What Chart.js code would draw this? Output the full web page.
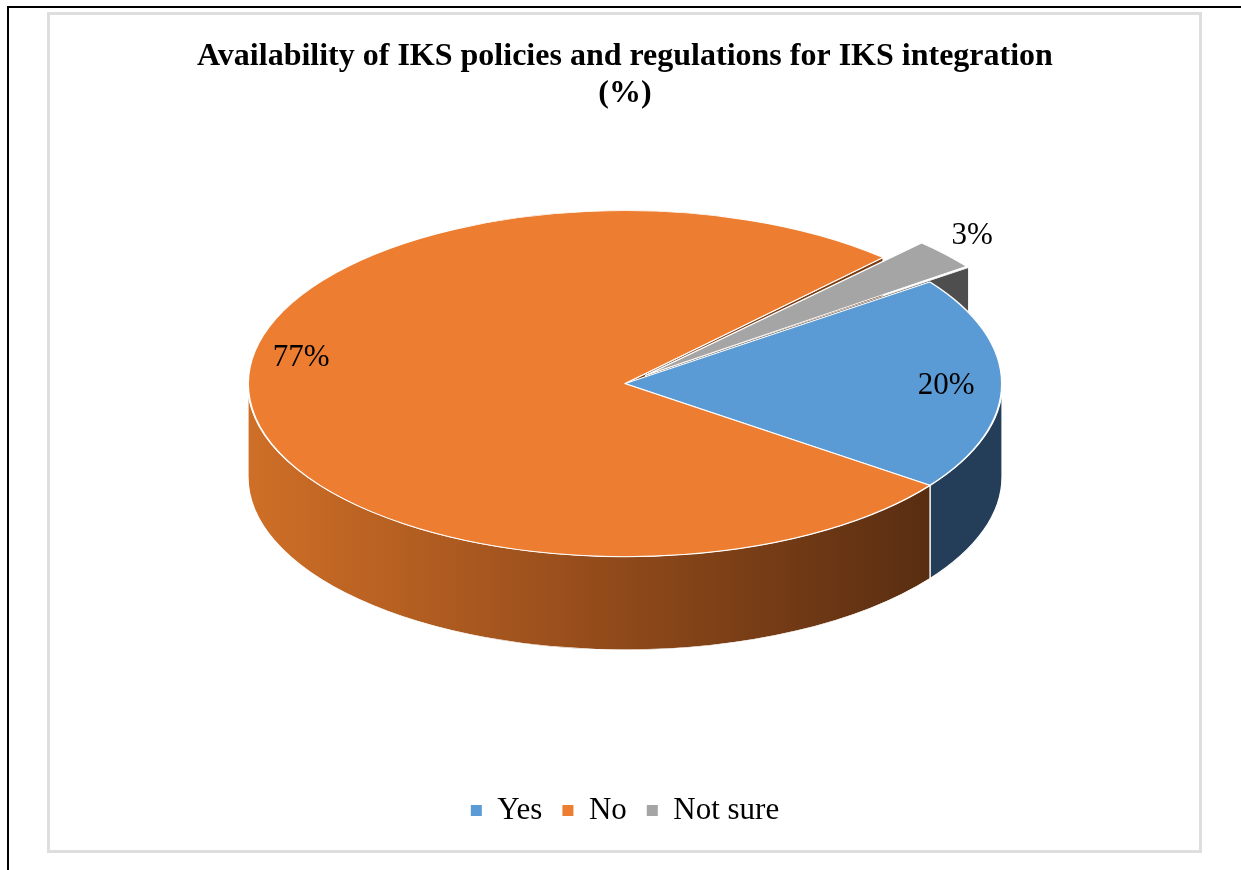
<!DOCTYPE html>
<html>
<head>
<meta charset="utf-8">
<script src="https://cdn.jsdelivr.net/npm/chart.js@4.4.1/dist/chart.umd.min.js"></script>
<style>
  html, body { margin: 0; padding: 0; background: #fff; }
  body { width: 1241px; height: 870px; position: relative; overflow: hidden; }
  #frame { position: absolute; left: 7px; top: 6px; right: 0; bottom: 0; border-left: 2px solid #000; border-top: 2px solid #000; }
  #box { position: absolute; left: 47px; top: 12px; width: 1149px; height: 835px; border: 3px solid #dedede; }
  #chart { position: absolute; left: 0; top: 0; }
</style>
</head>
<body>
<div id="frame"></div>
<div id="box"></div>
<canvas id="chart" width="1241" height="870"></canvas>
<script>
const categories = ['Yes', 'No', 'Not sure'];
const shares = [20, 77, 3];
const titleLines = ['Availability of IKS policies and regulations for IKS integration', '(%)'];

const sliceColors = ['#5B9BD5', '#ED7D31', '#A5A5A5'];
const wallColors = ['#243e59', '#7a3d13', '#4e4e4e'];
const explode = [0, 0, 110];

// fake 3D: squash the pie vertically and extrude the front rim
const tilt = 0.459;
const depth = 93;
const shiftY = -64.5;
const serif = '"Liberation Serif", "Times New Roman", serif';

function frontSpans(a0, a1) {
  const out = [];
  for (let k = -2; k <= 2; k++) {
    const s = Math.max(a0, 2 * Math.PI * k);
    const e = Math.min(a1, 2 * Math.PI * k + Math.PI);
    if (e > s) out.push([s, e]);
  }
  return out;
}

// same offset maths as ArcElement.draw
function arcGeom(arc) {
  const p = arc.getProps(['x', 'y', 'startAngle', 'endAngle', 'outerRadius', 'circumference'], true);
  const off = (arc.options.offset || 0) / 4;
  const mid = (p.startAngle + p.endAngle) / 2;
  const fix = 1 - Math.sin(Math.min(Math.PI, p.circumference || 0));
  return {
    x: p.x + Math.cos(mid) * off,
    y: p.y + Math.sin(mid) * off,
    r: p.outerRadius + off * fix,
    a0: p.startAngle, a1: p.endAngle, mid, R: p.outerRadius
  };
}

function sideFill(ctx, i, g) {
  if (i !== 1) return wallColors[i];
  const grad = ctx.createLinearGradient(g.x - g.r, 0, g.x + g.r * 0.82, 0);
  grad.addColorStop(0, '#cf6f27');
  grad.addColorStop(0.5, '#954c1b');
  grad.addColorStop(1, '#582d11');
  return grad;
}

const pie3d = {
  id: 'pie3d',
  beforeDatasetsDraw(chart) {
    const ctx = chart.ctx;
    const arcs = chart.getDatasetMeta(0).data;
    const cx = arcs[0].x, cy = arcs[0].y;
    const d = depth / tilt;
    ctx.save();
    ctx.translate(0, shiftY);
    ctx.translate(cx, cy);
    ctx.scale(1, tilt);
    ctx.translate(-cx, -cy);
    ctx.lineWidth = 1.2;
    ctx.strokeStyle = '#ffffff';

    // radial walls facing the viewer
    arcs.forEach((arc, i) => {
      const g = arcGeom(arc);
      [[g.a0, -1], [g.a1, 1]].forEach(([a, dir]) => {
        if (dir * Math.cos(a) <= 0) return;
        const ex = g.x + Math.cos(a) * g.r, ey = g.y + Math.sin(a) * g.r;
        ctx.beginPath();
        ctx.moveTo(g.x, g.y);
        ctx.lineTo(ex, ey);
        ctx.lineTo(ex, ey + d);
        ctx.lineTo(g.x, g.y + d);
        ctx.closePath();
        ctx.fillStyle = wallColors[i];
        ctx.fill();
        ctx.stroke();
      });
    });

    // outer rim on the front half
    arcs.forEach((arc, i) => {
      const g = arcGeom(arc);
      frontSpans(g.a0, g.a1).forEach(([s, e]) => {
        ctx.beginPath();
        ctx.arc(g.x, g.y, g.r, s, e);
        ctx.lineTo(g.x + Math.cos(e) * g.r, g.y + d + Math.sin(e) * g.r);
        ctx.arc(g.x, g.y + d, g.r, e, s, true);
        ctx.closePath();
        ctx.fillStyle = sideFill(ctx, i, g);
        ctx.fill();
        ctx.stroke();
      });
    });
  },
  afterDatasetsDraw(chart) {
    const ctx = chart.ctx;
    ctx.restore();
    const arcs = chart.getDatasetMeta(0).data;
    const cy = arcs[0].y;
    ctx.save();
    ctx.font = '31px ' + serif;
    ctx.fillStyle = '#000';
    ctx.textAlign = 'center';
    ctx.textBaseline = 'middle';
    arcs.forEach((arc, i) => {
      const g = arcGeom(arc);
      let lx, ly;
      if (shares[i] < 5) {
        // small slice: label just outside the exploded rim
        const rr = g.r * 1.09;
        lx = g.x + Math.cos(g.mid) * rr;
        ly = cy + shiftY + (g.y - cy + Math.sin(g.mid) * rr) * tilt - 7;
      } else {
        const a = g.mid + 8 * Math.PI / 180;
        const rr = g.R * 0.86;
        lx = arc.x + Math.cos(a) * rr;
        ly = cy + shiftY + Math.sin(a) * rr * tilt - 19;
      }
      ctx.fillText(shares[i] + '%', lx, ly);
    });
    ctx.restore();
  }
};

new Chart(document.getElementById('chart'), {
  type: 'pie',
  data: {
    labels: categories,
    datasets: [{
      data: shares,
      backgroundColor: sliceColors,
      borderColor: '#ffffff',
      borderWidth: 2,
      offset: explode,
      hoverOffset: 0,
      clip: false
    }]
  },
  options: {
    responsive: false,
    animation: false,
    events: [],
    rotation: 54,
    radius: 377,
    layout: { padding: { left: 9, right: 0, top: 0, bottom: 34 } },
    plugins: {
      title: {
        display: true,
        text: titleLines,
        color: '#000',
        font: { family: serif, size: 32, weight: 'bold', lineHeight: 1.13 },
        padding: { top: 39, bottom: 10 }
      },
      legend: {
        position: 'bottom',
        labels: {
          color: '#000',
          font: { family: serif, size: 31 },
          boxWidth: 11,
          boxHeight: 11,
          padding: 20,
          generateLabels(chart) {
            return Chart.overrides.doughnut.plugins.legend.labels.generateLabels(chart)
              .map(l => Object.assign(l, { lineWidth: 0, strokeStyle: l.fillStyle }));
          }
        }
      },
      tooltip: { enabled: false }
    }
  },
  plugins: [pie3d]
});
</script>
</body>
</html>
